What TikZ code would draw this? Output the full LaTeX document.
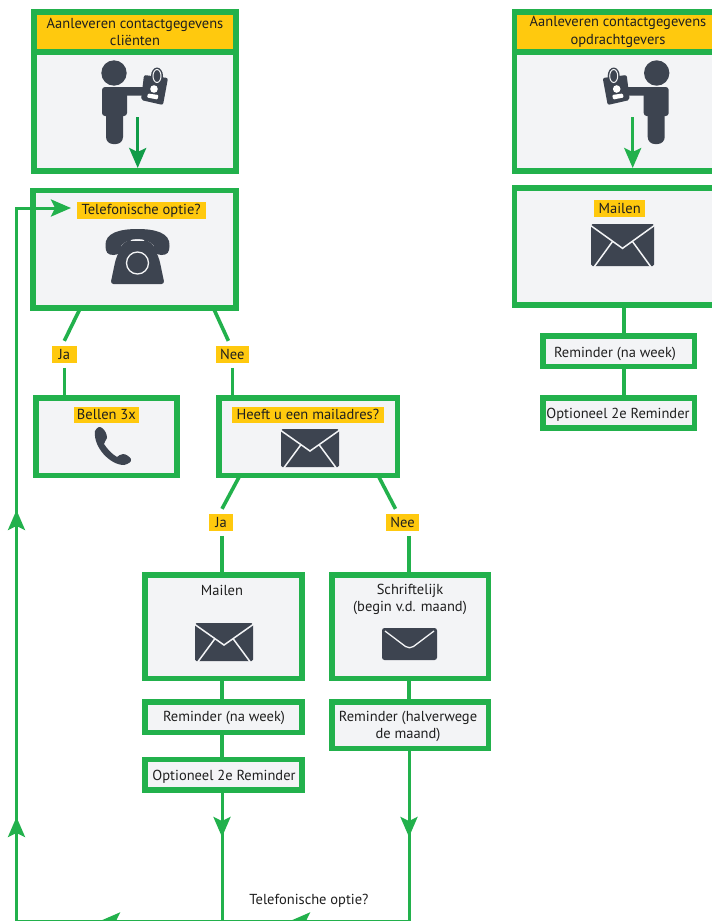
\documentclass[tikz,border=0pt]{standalone}
\usepackage{fontspec}
\setmainfont{PT Sans}
\usetikzlibrary{arrows.meta,calc}
\definecolor{flowgreen}{HTML}{22B14C}
\definecolor{darkgreen}{HTML}{109C48}
\definecolor{tagyellow}{HTML}{FFC90E}
\definecolor{boxfill}{HTML}{F3F4F6}
\definecolor{icon}{HTML}{3D4450}
\tikzset{
  x=1pt,y=-1pt,
  txt/.style={font=\fontsize{14.5}{17.8}\selectfont,text=black!88,inner sep=0pt,align=center},
  flowbox/.style={draw=flowgreen,line width=5.5pt,fill=boxfill,inner sep=0pt,outer sep=0pt,anchor=north west},
  headbox/.style={flowbox,fill=tagyellow},
  tag/.style={txt,fill=tagyellow,anchor=center},
  conn/.style={draw=flowgreen,line width=3.6pt},
  flow/.style={draw=flowgreen,line width=3pt},
  head/.style={-{Stealth[length=20pt,width=17pt,inset=4pt]}},
  person/.pic={
    \fill[icon] (0,-14) circle (12.7);
    \fill[icon,rounded corners=3] (-12,0) rectangle (13,29);
    \fill[icon,rounded corners=7] (-8,20) rectangle (9,57);
    \fill[icon,rounded corners=1] (0,0) rectangle (36,8.5);
    \fill[icon,rounded corners=2] (30,-12) -- (54,-9) -- (49,18) -- (27,13) -- cycle;
    \fill[icon] (43,-11) ellipse (6 and 8.5);
    \draw[boxfill,line width=1pt] (43,-11) ellipse (4 and 6.5);
    \fill[white] (40,2) circle (3.8);
    \fill[white,rounded corners=1] (34,6.5) -- (44.5,8) -- (43.5,12.5) -- (33,10.5) -- cycle;
  },
  mailicon/.pic={
    \fill[icon,rounded corners=1.5] (0,0) rectangle (1,1);
    \draw[boxfill,line width=1.5pt] (-.02,.02) -- (.5,.58) -- (1.02,.02);
    \draw[boxfill,line width=1.5pt] (.05,1.02) -- (.34,.42);
    \draw[boxfill,line width=1.5pt] (.95,1.02) -- (.66,.42);
  },
}
\begin{document}
\begin{tikzpicture}
\clip (0,0) rectangle (712,921);
\fill[white] (0,0) rectangle (712,921);

% left top
\node[headbox,minimum width=202.3pt,minimum height=40.5pt] (headL) at (33.75,11.75) {};
\node[flowbox,minimum width=202.3pt,minimum height=119pt] (srcL) at (33.75,52) {};
\node[txt,anchor=center] (headLt) at (135,32) {Aanleveren contactgegevens\\cliënten};
% right top
\node[headbox,minimum width=204pt,minimum height=40.5pt] (headR) at (514.5,11.75) {};
\node[flowbox,minimum width=204pt,minimum height=119pt] (srcR) at (514.5,52) {};
\node[txt,anchor=center] (headRt) at (618,32) {Aanleveren contactgegevens\\opdrachtgevers};

% person icons
\begin{scope}[shift={(114,87)}]
  \pic[transform shape] {person};
\end{scope}
\begin{scope}[shift={(656.7,87)},xscale=-1]
  \pic[transform shape] {person};
\end{scope}
\coordinate (srcLa) at (137.7,117);
\coordinate (srcRa) at (632.7,117);
\coordinate (srcLb) at (137.7,168);
\coordinate (srcRb) at (632.7,168);
\draw[draw=darkgreen,line width=3pt,head] (srcLa) -- (srcLb);
\draw[flow,head] (srcRa) -- (srcRb);

% telephone box
\node[flowbox,minimum width=203.2pt,minimum height=117.5pt] (tel) at (32.75,190.5) {};
\node[tag,minimum width=129pt,minimum height=17.3pt] (telt) at (141.2,210.3) {Telefonische optie?};
\begin{scope}[shift={(137.5,0)}]
  \fill[icon] (-32,246) .. controls (-33,233) and (-18,229) .. (0,229) .. controls (18,229) and (33,233) .. (32,246)
     .. controls (32,252) and (30,255) .. (24,255) .. controls (19,255) and (16,252) .. (16,245)
     .. controls (8,237) and (-8,237) .. (-16,245) .. controls (-16,252) and (-19,255) .. (-24,255)
     .. controls (-30,255) and (-32,252) .. (-32,246) -- cycle;
  \fill[icon] (-9,240) circle (2.4) (9,240) circle (2.4);
  \fill[icon,rounded corners=3] (-11,241) -- (11,241) -- (16,245) -- (22,260) -- (27,284) -- (-27,284) -- (-22,260) -- (-16,245) -- cycle;
  \draw[boxfill,line width=1.3pt] (0,263) circle (11);
\end{scope}

% right mail box
\node[flowbox,minimum width=204pt,minimum height=117.2pt] (mailR) at (514.5,187.75) {};
\node[tag,minimum width=50.7pt,minimum height=16.7pt] (mailRt) at (619.7,208.3) {Mailen};
\begin{scope}[shift={(591,224)},xscale=63,yscale=42]
  \pic[transform shape] {mailicon};
\end{scope}
\node[flowbox,minimum width=151.5pt,minimum height=30.5pt] (remR) at (542.75,336) {};
\node[txt,anchor=center] (remRt) at (615,354) {Reminder (na week)};
\node[flowbox,minimum width=151.5pt,minimum height=30pt] (optR) at (542.75,398) {};
\node[txt,anchor=center] (optRt) at (618,414.5) {Optioneel 2e Reminder};
\coordinate (xm) at (623.7,0);
\draw[conn] (xm |- mailR.south) -- (xm |- remR.north);
\draw[conn] (xm |- remR.south) -- (xm |- optR.north);

% Ja/Nee 1
\node[tag,minimum width=25.3pt,minimum height=16.7pt] (ja1) at (64.3,354.4) {Ja};
\node[tag,minimum width=33.3pt,minimum height=16.7pt] (nee1) at (232.4,354.4) {Nee};
\node[flowbox,minimum width=141pt,minimum height=77.5pt] (bel) at (35.75,397.75) {};
\node[flowbox,minimum width=178.5pt,minimum height=77.5pt] (heeft) at (218.75,397.75) {};
\node[tag,minimum width=64.7pt,minimum height=16pt] (belt) at (106.4,414.7) {Bellen 3x};
\node[tag,minimum width=152.3pt,minimum height=16pt] (heeftt) at (307.9,414.7) {Heeft u een mailadres?};
\draw[conn] ([xshift=-54pt]tel.south) -- ([yshift=5pt]ja1.north);
\draw[conn] ([xshift=79pt]tel.south) -- ([xshift=-4pt,yshift=5pt]nee1.north);
\draw[conn] ([yshift=-5pt]ja1.south) -- (ja1.south |- bel.north);
\draw[conn] ([yshift=-5pt]nee1.south) -- (nee1.south |- heeft.north);
% phone handset
\fill[icon] (95,431) .. controls (97,427) and (100,426) .. (102,428)
  .. controls (105,430) and (107,434) .. (107,438)
  .. controls (106,441) and (104,442) .. (104,444)
  .. controls (108,450) and (112,454) .. (117,457)
  .. controls (119,456) and (120,454) .. (123,454)
  .. controls (126,454) and (130,457) .. (131,459)
  .. controls (132,462) and (128,464) .. (124,465)
  .. controls (110,465) and (93,447) .. (95,431) -- cycle;
\begin{scope}[shift={(281,429)},xscale=58,yscale=38]
  \pic[transform shape] {mailicon};
\end{scope}

% Ja/Nee 2
\node[tag,minimum width=24.7pt,minimum height=16.7pt] (ja2) at (221,522.4) {Ja};
\node[tag,minimum width=33pt,minimum height=16.7pt] (nee2) at (402.5,522.4) {Nee};
\node[flowbox,minimum width=157.3pt,minimum height=103.8pt] (mailL) at (144.75,574.75) {};
\node[flowbox,minimum width=156.5pt,minimum height=103.8pt] (schr) at (331.75,574.75) {};
\draw[conn] ([xshift=-68pt]heeft.south) -- ([xshift=1pt,yshift=5pt]ja2.north);
\draw[conn] ([xshift=70pt]heeft.south) -- ([xshift=-7pt,yshift=5pt]nee2.north);
\draw[conn] ([xshift=1pt,yshift=-5pt]ja2.south) -- ([xshift=1pt]ja2.south |- mailL.north);
\draw[conn] ([xshift=6.5pt,yshift=-5pt]nee2.south) -- ([xshift=6.5pt]nee2.south |- schr.north);
\node[txt,anchor=center] (mailLt) at (222,590.5) {Mailen};
\node[txt,anchor=center] (schrt) at (410,599.5) {Schriftelijk\\(begin v.d. maand)};
\begin{scope}[shift={(195,623)},xscale=58,yscale=38]
  \pic[transform shape] {mailicon};
\end{scope}
\fill[icon,rounded corners=2.5] (382,628) rectangle (437,660);
\draw[boxfill,line width=1.3pt,rounded corners=5] (385,631) -- (409.5,649.5) -- (434,631);

\node[flowbox,minimum width=157.3pt,minimum height=30.5pt] (remL) at (144.75,701.75) {};
\node[flowbox,minimum width=157.3pt,minimum height=30.5pt] (optL) at (144.75,759.25) {};
\node[flowbox,minimum width=156.5pt,minimum height=46.5pt] (remS) at (331.75,701.75) {};
\node[txt,anchor=center] (remLt) at (224,718) {Reminder (na week)};
\node[txt,anchor=center] (optLt) at (224,776.5) {Optioneel 2e Reminder};
\node[txt,anchor=center] (remSt) at (408,726.5) {Reminder (halverwege\\de maand)};
\coordinate (xl) at (222,0);
\coordinate (xr) at (409,0);
\draw[conn] (xl |- mailL.south) -- (xl |- remL.north);
\draw[conn] (xl |- remL.south) -- (xl |- optL.north);
\draw[conn] (xr |- schr.south) -- (xr |- remS.north);

% feedback lines
\coordinate (bL) at (222,921);
\coordinate (bR) at (409,921);
\coordinate (bC) at (16.5,921);
\coordinate (lt) at (16.5,208);
\draw[flow] (xl |- optL.south) -- (bL);
\draw[flow] (xr |- remS.south) -- (bR);
\draw[flow] (bR) -- (bC) -- (lt) -- (50,208);
\draw[flow,head] (xl |- optL.south) -- (222,837);
\draw[flow,head] (xr |- remS.south) -- (409,837);
\draw[flow,head] (bR) -- (290,921);
\draw[flow,head] (290,921) -- (100,921);
\draw[flow,head] (bC) -- (16.5,817);
\draw[flow,head] (16.5,817) -- (16.5,510);
\draw[flow,head] (50,208) -- (71,208);
\node[txt,anchor=center] (bott) at (309,900.5) {Telefonische optie?};
\end{tikzpicture}
\end{document}
